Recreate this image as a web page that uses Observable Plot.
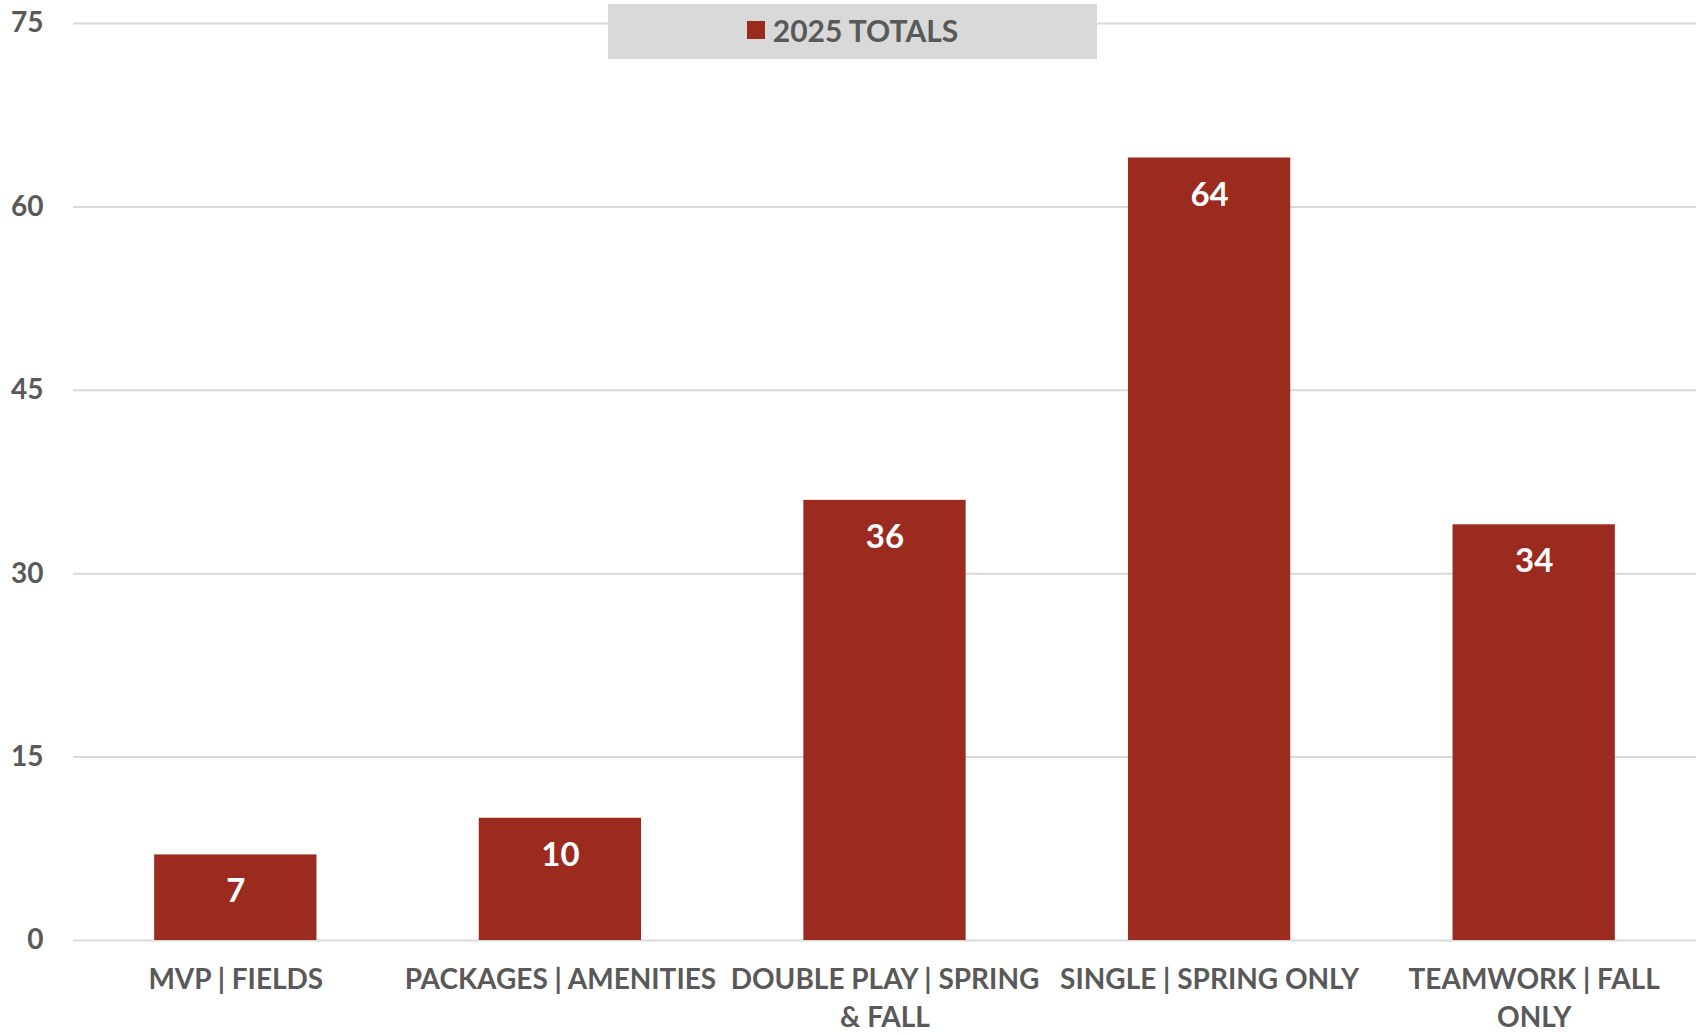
<!DOCTYPE html>
<html>
<head>
<meta charset="utf-8">
<script src="https://cdn.jsdelivr.net/npm/d3@7"></script>
<script src="https://cdn.jsdelivr.net/npm/@observablehq/plot@0.6"></script>
<style>
  html, body { margin: 0; padding: 0; background: #fff; }
  #wrap { position: relative; width: 1702px; height: 1034px; font-family: Lato, "Noto Sans", sans-serif; }
  #legend {
    position: absolute; left: 608px; top: 4px; width: 489px; height: 55px;
    background: #d9d9d9; display: flex; align-items: center; justify-content: center;
    font-weight: bold; font-size: 30px; color: #595959; gap: 8px; padding-bottom: 3px; box-sizing: border-box;
  }
  #legend .sw { width: 18px; height: 18px; background: #9b2b1f; display: inline-block; }
</style>
</head>
<body>
<div id="wrap">
  <div id="chart"></div>
  <div id="legend"><span class="sw"></span><span>2025 TOTALS</span></div>
</div>
<script>
const categories = ["MVP | FIELDS", "PACKAGES | AMENITIES", "DOUBLE PLAY | SPRING & FALL", "SINGLE | SPRING ONLY", "TEAMWORK | FALL ONLY"];
const tickLabels = ["MVP | FIELDS", "PACKAGES | AMENITIES", "DOUBLE PLAY | SPRING\n& FALL", "SINGLE | SPRING ONLY", "TEAMWORK | FALL\nONLY"];
const values = [7, 10, 36, 64, 34];
const yTicks = [0, 15, 30, 45, 60, 75];
const seriesName = "2025 TOTALS";

const data = categories.map((c, i) => ({category: c, value: values[i]}));
const labelOf = new Map(categories.map((c, i) => [c, tickLabels[i]]));

const barColor = "#9b2b1f";
const textColor = "#595959";

const chart = Plot.plot({
  width: 1702,
  height: 1034,
  marginLeft: 73,
  marginRight: 6,
  marginTop: 23,
  marginBottom: 94,
  style: {fontFamily: "Lato, 'Noto Sans', sans-serif", background: "#fff"},
  x: {domain: categories, paddingInner: 0.5, paddingOuter: 0.25, round: false, label: null},
  y: {domain: [0, 75], label: null},
  marks: [
    Plot.gridY(yTicks, {stroke: "#d9d9d9", strokeWidth: 2, strokeOpacity: 1}),
    Plot.barY(data, {x: "category", y: "value", fill: barColor}),
    Plot.text(data, {x: "category", y: "value", text: d => String(d.value), dy: 37, fill: "#fff", fontSize: 33, fontWeight: "bold"}),
    Plot.axisY({ticks: yTicks, tickSize: 0, tickPadding: 30, fontSize: 28, fontWeight: "bold", fill: textColor, label: null}),
    Plot.axisX({tickSize: 0, tickPadding: 22, fontSize: 28, fontWeight: "bold", fill: textColor, lineAnchor: "top", lineHeight: 1.34, tickFormat: c => labelOf.get(c), label: null})
  ]
});
document.getElementById("chart").appendChild(chart);
</script>
</body>
</html>
